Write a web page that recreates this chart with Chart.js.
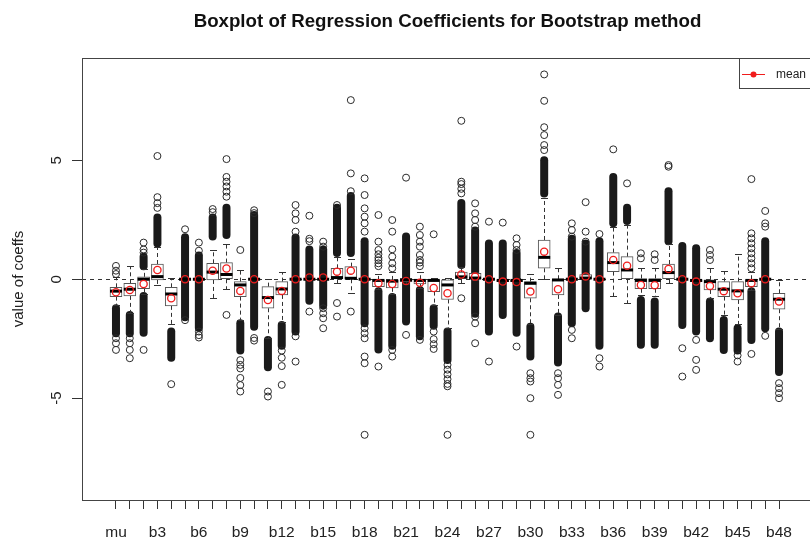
<!DOCTYPE html>
<html>
<head>
<meta charset="utf-8">
<title>Boxplot of Regression Coefficients for Bootstrap method</title>
<script src="https://cdn.jsdelivr.net/npm/chart.js@4.4.1/dist/chart.umd.min.js"></script>
<style>
  html, body { margin: 0; padding: 0; background: #fff; overflow: hidden; }
  #wrap { width: 830px; height: 539px; }
</style>
</head>
<body>
<div id="wrap"><canvas id="coefChart"></canvas></div>
<script>
// Coefficient names (intercept + b1..b48)
const categories = ['mu', 'b1', 'b2', 'b3', 'b4', 'b5', 'b6', 'b7', 'b8', 'b9', 'b10',
    'b11', 'b12', 'b13', 'b14', 'b15', 'b16', 'b17', 'b18', 'b19', 'b20',
    'b21', 'b22', 'b23', 'b24', 'b25', 'b26', 'b27', 'b28', 'b29', 'b30',
    'b31', 'b32', 'b33', 'b34', 'b35', 'b36', 'b37', 'b38', 'b39', 'b40',
    'b41', 'b42', 'b43', 'b44', 'b45', 'b46', 'b47', 'b48'];

// Box statistics
const whiskerLow = [-1.1, -1.4, -0.6, -0.25, -1.9, 0, 0, -0.8, -0.42, -1.7, 0,
    -2.45, -1.8, 0, 0, 0, -0.17, -0.59, 0, -0.4, -0.6,
    -0.2, -0.35, -1.1, -2.05, -0.17, -0.05, 0, -0.1, -0.1, -1.9,
    0, -1.5, 0, 0, 0, -0.7, -0.98, -0.65, -0.7, -0.17,
    0, -0.1, -0.8, -1.5, -1.9, -0.45, 0, -2.1];
const q1 = [-0.73, -0.7, -0.4, -0.03, -1.12, 0, 0, -0.03, 0, -0.73, 0,
    -1.22, -0.66, 0, 0, 0, 0, 0, 0, -0.31, -0.36,
    -0.1, -0.2, -0.52, -0.85, 0, 0, 0, -0.1, -0.1, -0.8,
    0.46, -0.66, 0, 0, 0, 0.32, 0, -0.4, -0.4, 0,
    0, -0.1, -0.45, -0.73, -0.87, -0.31, 0, -1.26];
const medians = [-0.5, -0.42, 0, 0.11, -0.62, 0, 0, 0.3, 0.2, -0.24, 0,
    -0.77, -0.41, 0, 0, 0, 0.07, 0.04, 0, -0.05, -0.08,
    -0.02, -0.05, -0.05, -0.24, 0.1, 0.05, 0, -0.05, -0.05, -0.17,
    0.92, -0.03, 0, 0.05, 0, 0.7, 0.39, -0.05, -0.05, 0.28,
    0, -0.05, -0.1, -0.42, -0.49, -0.05, 0, -0.84];
const q3 = [-0.34, -0.17, 0.1, 0.64, -0.34, 0, 0, 0.67, 0.7, -0.1, 0,
    -0.31, -0.1, 0, 0, 0, 0.46, 0.53, 0, -0.03, -0.03,
    0, 0, 0, 0, 0.3, 0.25, 0, 0, 0, -0.1,
    1.65, 0, 0, 0.2, 0, 1.12, 0.95, 0.03, 0.03, 0.64,
    0, 0, -0.03, -0.1, -0.1, 0, 0, -0.59];
const whiskerHigh = [0.1, 0.56, 0.45, 1.37, 0.04, 0, 0, 1.23, 1.5, 0.4, 0,
    0, 0.32, 0, 0, 0, 0.95, 0.85, 0, 0.2, 0.3,
    0.05, 0.3, 0.05, 0.05, 0.5, 0.3, 0, 0.05, 0.05, 0.22,
    3.4, 0.46, 0, 0.25, 0, 2.2, 2.3, 0.46, 0.46, 1.5,
    0, 0.05, 0.46, 0.35, 1.05, 0.3, 0, -0.03];
const means = [-0.55, -0.45, -0.2, 0.39, -0.8, 0, 0, 0.36, 0.45, -0.49, 0,
    -0.87, -0.49, 0, 0.07, 0.07, 0.32, 0.36, 0, -0.17, -0.2,
    -0.07, -0.15, -0.37, -0.59, 0.2, 0.11, 0, -0.1, -0.12, -0.52,
    1.16, -0.42, 0, 0.12, 0, 0.81, 0.57, -0.24, -0.25, 0.43,
    0, -0.1, -0.28, -0.5, -0.59, -0.17, 0, -0.94];

// Single outlying values per coefficient
const outliers = [
    [0.22, 0.36, 0.56, -2.48, -2.69, -2.97],
    [-2.48, -2.69, -2.97, -3.32],
    [1.12, 1.25, 1.54, -2.97],
    [3.0, 3.2, 3.45, 5.18],
    [-4.41],
    [2.1, -1.72],
    [1.2, 1.54, -2.2, -2.35, -2.45],
    [2.82, 2.95],
    [3.47, 3.68, 3.9, 4.1, 4.3, 5.05, -1.5],
    [1.23, -3.4, -3.6, -3.75, -4.15, -4.45, -4.72],
    [2.78, 2.9, -2.47, -2.58],
    [-4.72, -4.93],
    [-3.0, -3.3, -3.65, -4.44],
    [2.0, 2.49, 2.77, 3.12, -2.4, -3.46],
    [1.6, 1.7, 2.67, -1.36],
    [1.37, 1.58, -1.22, -1.43, -1.64, -2.06],
    [3.12, -1.0, -1.57],
    [3.7, 4.45, 7.53, -1.36],
    [2.0, 2.35, 2.63, 2.98, 3.54, 4.24, -2.06, -2.27, -2.48, -3.25, -3.53, -6.54],
    [0.55, 0.67, 0.8, 0.9, 1.05, 1.23, 1.58, 2.7, -3.67],
    [0.46, 0.67, 0.95, 1.26, 2.0, 2.49, -2.97, -3.25],
    [4.27, -2.34],
    [0.55, 0.7, 0.81, 1.02, 1.37, 1.58, 1.86, 2.21, -2.55],
    [1.89, -2.2, -2.52, -2.73, -2.93],
    [-3.6, -3.8, -4.0, -4.2, -4.4, -4.5, -6.54],
    [3.61, 3.8, 4.0, 4.1, 6.66, -0.8],
    [2.21, 2.49, 2.77, 3.19, -1.57, -1.85, -2.69],
    [2.42, -3.46],
    [2.38],
    [1.23, 1.44, 1.72, -2.83],
    [-3.95, -4.16, -4.3, -5.0, -6.54],
    [5.43, 5.64, 6.06, 6.39, 7.5, 8.61],
    [-3.95, -4.16, -4.44, -4.86],
    [1.79, 2.07, 2.35, -2.13, -2.48],
    [1.58, 2.0, 3.24],
    [1.9, -3.32, -3.67],
    [5.46],
    [4.03],
    [0.88, 1.09],
    [0.81, 1.05],
    [4.73, 4.8],
    [-2.9, -4.09],
    [-2.55, -3.39, -3.81],
    [0.81, 1.02, 1.23],
    [],
    [-3.2, -3.46],
    [0.46, 0.67, 0.88, 1.09, 1.3, 1.51, 1.72, 1.93, 4.21, -3.14],
    [2.21, 2.35, 2.87, -2.38],
    [-4.37, -4.58, -4.79, -5.0]
];

// Stretches where outlier circles overlap into a solid column [from, to]
const denseRuns = [
    [[-1.22, -2.27]], [[-1.5, -2.27]], [[0.55, 0.95], [-0.7, -2.25]], [[1.5, 2.6]],
    [[-2.2, -3.3]], [[-1.6, 1.76]], [[-2.05, 1.0]], [[1.8, 2.6]], [[1.86, 3.0]],
    [[-1.85, -3.0]], [[-2.0, 2.7]], [[-2.55, -3.7]], [[-1.92, -2.8]], [[-2.2, 1.75]],
    [[-0.9, 1.25]], [[-1.1, 1.25]], [[1.1, 3.0]], [[1.1, 3.5]], [[-1.85, 1.6]],
    [[-0.5, -2.95]], [[-0.75, -2.8]], [[-1.78, 1.8]], [[-0.45, -2.4]], [[-1.22, -1.95]],
    [[-2.2, -3.4]], [[0.6, 3.2]], [[-1.45, 2.05]], [[-2.2, 1.5]], [[-1.5, 1.5]],
    [[-2.25, 1.1]], [[-2.0, -3.25]], [[3.6, 5.0]], [[-1.57, -3.5]], [[-1.85, 1.7]],
    [[-1.22, 1.5]], [[-2.8, 1.6]], [[2.35, 4.3]], [[2.45, 3.0]], [[-0.87, -2.75]],
    [[-0.94, -2.75]], [[1.6, 3.7]], [[-1.92, 1.4]], [[-2.2, 1.3]], [[-0.94, -2.48]],
    [[-1.71, -2.97]], [[-2.06, -3.0]], [[-0.5, -2.55]], [[-2.06, 1.6]], [[-2.2, -3.9]]
];

const yTicks = [-5, 0, 5];

const FONT = '"Liberation Sans", Arial, Helvetica, sans-serif';
Chart.defaults.font.family = FONT;
Chart.defaults.color = '#222';

const outlierPoints = [];
outliers.forEach((list, i) => list.forEach(v => outlierPoints.push({ x: i, y: v })));

// Whiskers, dense outlier runs, frame, title and legend
const boxplotDecor = {
    id: 'boxplotDecor',
    beforeDatasetsDraw(chart) {
        const { ctx, chartArea: area, scales: { x, y } } = chart;
        ctx.save();

        // dashed reference line at 0
        const y0 = Math.round(y.getPixelForValue(0)) + 0.5;
        ctx.strokeStyle = '#333';
        ctx.lineWidth = 1;
        ctx.setLineDash([4, 4]);
        ctx.beginPath();
        ctx.moveTo(area.left, y0);
        ctx.lineTo(area.right, y0);
        ctx.stroke();

        // overlapping outliers
        ctx.setLineDash([]);
        ctx.strokeStyle = '#1a1a1a';
        ctx.lineWidth = 8;
        ctx.lineCap = 'round';
        denseRuns.forEach((runs, i) => {
            const px = x.getPixelForValue(i);
            runs.forEach(([a, b]) => {
                ctx.beginPath();
                ctx.moveTo(px, y.getPixelForValue(a));
                ctx.lineTo(px, y.getPixelForValue(b));
                ctx.stroke();
            });
        });

        // whiskers + staples
        ctx.lineCap = 'butt';
        ctx.lineWidth = 1;
        ctx.strokeStyle = '#333';
        categories.forEach((c, i) => {
            const px = Math.round(x.getPixelForValue(i)) + 0.5;
            [[q3[i], whiskerHigh[i]], [q1[i], whiskerLow[i]]].forEach(([from, to]) => {
                if (from === to) return;
                const yTo = Math.round(y.getPixelForValue(to)) + 0.5;
                ctx.setLineDash([4, 3]);
                ctx.beginPath();
                ctx.moveTo(px, y.getPixelForValue(from));
                ctx.lineTo(px, yTo);
                ctx.stroke();
                ctx.setLineDash([]);
                ctx.beginPath();
                ctx.moveTo(px - 3.5, yTo);
                ctx.lineTo(px + 3.5, yTo);
                ctx.stroke();
            });
        });
        ctx.restore();
    },
    afterDraw(chart) {
        const { ctx, chartArea: area } = chart;
        ctx.save();

        // plot frame
        ctx.strokeStyle = '#444';
        ctx.lineWidth = 1;
        ctx.strokeRect(Math.round(area.left) + 0.5, Math.round(area.top) + 0.5,
            Math.round(area.right - area.left), Math.round(area.bottom - area.top));

        // title
        ctx.fillStyle = '#111';
        ctx.font = 'bold 18.7px ' + FONT;
        ctx.textAlign = 'center';
        ctx.textBaseline = 'middle';
        ctx.fillText('Boxplot of Regression Coefficients for Bootstrap method', (area.left + area.right) / 2, 22);

        // legend (top right, inside the frame)
        const lx = 739.5, ly = Math.round(area.top) + 0.5;
        ctx.fillStyle = '#fff';
        ctx.fillRect(lx, ly, area.right - lx, 30);
        ctx.strokeStyle = '#444';
        ctx.strokeRect(lx, ly, Math.round(area.right - lx), 30);
        ctx.strokeStyle = '#f01c1c';
        ctx.beginPath();
        ctx.moveTo(742, ly + 16);
        ctx.lineTo(765, ly + 16);
        ctx.stroke();
        ctx.fillStyle = '#f01c1c';
        ctx.beginPath();
        ctx.arc(753.5, ly + 16, 3, 0, Math.PI * 2);
        ctx.fill();
        ctx.fillStyle = '#222';
        ctx.font = '12px ' + FONT;
        ctx.textAlign = 'left';
        ctx.fillText('mean', 776, ly + 16);
        ctx.restore();
    }
};

new Chart(document.getElementById('coefChart'), {
    type: 'bar',
    data: {
        datasets: [
            {
                type: 'line',
                label: 'mean',
                data: means.map((v, i) => ({ x: i, y: v })),
                showLine: false,
                pointStyle: 'circle',
                pointRadius: 3.6,
                pointBorderWidth: 1.3,
                pointBorderColor: '#f01c1c',
                pointBackgroundColor: 'rgba(0,0,0,0)'
            },
            {
                type: 'line',
                label: 'median',
                data: medians.map((v, i) => ({ x: i, y: v })),
                showLine: false,
                pointStyle: 'line',
                pointRadius: 6,
                pointBorderWidth: 3,
                pointBorderColor: '#000'
            },
            {
                type: 'line',
                label: 'outliers',
                data: outlierPoints,
                showLine: false,
                pointStyle: 'circle',
                pointRadius: 3.5,
                pointBorderWidth: 1,
                pointBorderColor: '#2a2a2a',
                pointBackgroundColor: 'rgba(0,0,0,0)'
            },
            {
                type: 'bar',
                label: 'box',
                data: q1.map((v, i) => ({ x: i, y: [v, q3[i]] })),
                backgroundColor: '#fff',
                borderColor: '#555',
                borderWidth: 1,
                borderSkipped: false,
                barThickness: 12
            }
        ]
    },
    options: {
        responsive: true,
        maintainAspectRatio: false,
        animation: false,
        layout: { padding: { top: 58, left: 4, right: 17, bottom: 0 } },
        plugins: {
            legend: { display: false },
            tooltip: { enabled: false }
        },
        scales: {
            x: {
                type: 'linear',
                min: -2.46,
                max: 50.46,
                offset: false,
                afterBuildTicks: axis => { axis.ticks = categories.map((c, i) => ({ value: i })); },
                afterFit: axis => { axis.height = 39; },
                grid: { offset: false, drawOnChartArea: false, drawTicks: true, tickLength: 9, color: '#333' },
                border: { display: false },
                ticks: {
                    autoSkip: false,
                    maxRotation: 0,
                    padding: 14,
                    font: { size: 15.5 },
                    color: '#222',
                    callback: v => (v % 3 === 0 ? categories[v] : '')
                }
            },
            y: {
                min: -9.28,
                max: 9.3,
                afterBuildTicks: axis => { axis.ticks = yTicks.map(v => ({ value: v })); },
                afterFit: axis => { axis.width = 78; },
                grid: { drawOnChartArea: false, drawTicks: true, tickLength: 10, color: '#333' },
                border: { display: false },
                ticks: {
                    minRotation: 90,
                    maxRotation: 90,
                    crossAlign: 'center',
                    padding: 8,
                    font: { size: 15 },
                    color: '#222'
                },
                title: {
                    display: true,
                    text: 'value of coeffs',
                    font: { size: 15 },
                    color: '#222',
                    padding: { top: 6, bottom: 4 }
                }
            }
        }
    },
    plugins: [boxplotDecor]
});
</script>
</body>
</html>
